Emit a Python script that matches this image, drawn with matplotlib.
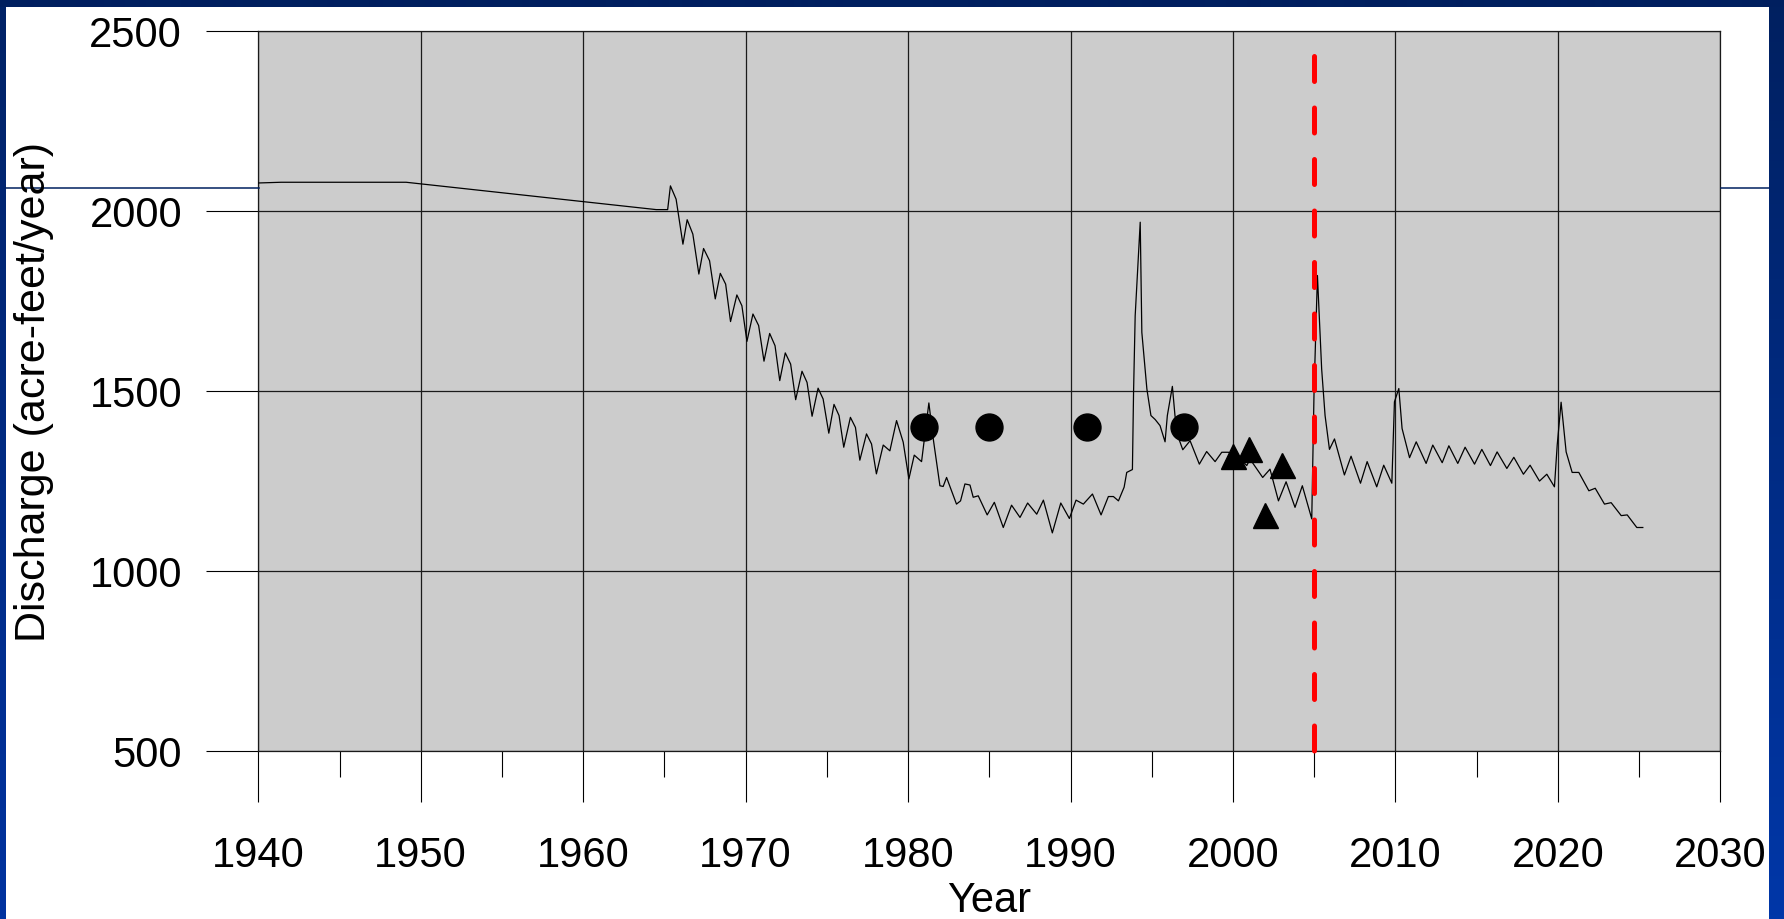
import numpy as np
from matplotlib import pyplot as plt
from matplotlib.colors import LinearSegmentedColormap
from matplotlib.lines import Line2D

# simulated discharge (year, acre-feet/year)
years = [1940.0, 1941.4, 1949.1, 1964.5, 1965.2,
         1965.37, 1965.72, 1966.14, 1966.40, 1966.75, 1967.12,
         1967.41, 1967.78, 1968.13, 1968.44, 1968.77, 1969.07,
         1969.46, 1969.77, 1970.08, 1970.45, 1970.80, 1971.13,
         1971.48, 1971.81, 1972.10, 1972.44, 1972.77, 1973.08,
         1973.47, 1973.78, 1974.09, 1974.46, 1974.77, 1975.12,
         1975.44, 1975.75, 1976.04, 1976.45, 1976.76, 1977.03,
         1977.44, 1977.75, 1978.05, 1978.47, 1978.88, 1979.29,
         1979.70, 1980.05, 1980.38, 1980.83, 1981.28, 1981.55,
         1981.96, 1982.16, 1982.37, 1982.98, 1983.23, 1983.50,
         1983.81, 1984.01, 1984.32, 1984.87, 1985.31, 1985.86,
         1986.37, 1986.89, 1987.36, 1987.92, 1988.33, 1988.88,
         1989.40, 1989.93, 1990.34, 1990.79, 1991.35, 1991.88,
         1992.33, 1992.64, 1992.95, 1993.30, 1993.46, 1993.81,
         1993.88, 1993.98, 1994.29, 1994.39, 1994.70, 1994.95,
         1995.21, 1995.51, 1995.82, 1995.96, 1996.27, 1996.43,
         1996.64, 1996.91, 1997.36, 1997.93, 1998.38, 1998.90,
         1999.31, 1999.72, 2000.30, 2000.85, 2001.05, 2001.83,
         2002.28, 2002.80, 2003.27, 2003.82, 2004.27, 2004.85,
         2004.99, 2005.20, 2005.46, 2005.67, 2005.94, 2006.25,
         2006.86, 2007.27, 2007.85, 2008.26, 2008.85, 2009.28,
         2009.78, 2009.94, 2010.21, 2010.41, 2010.87, 2011.28,
         2011.89, 2012.30, 2012.88, 2013.29, 2013.84, 2014.29,
         2014.87, 2015.32, 2015.85, 2016.26, 2016.86, 2017.29,
         2017.88, 2018.29, 2018.87, 2019.32, 2019.79, 2019.96,
         2020.20, 2020.51, 2020.88, 2021.29, 2021.91, 2022.30,
         2022.87, 2023.28, 2023.90, 2024.27, 2024.86, 2025.23]
discharge = [2077, 2079, 2079, 2003, 2003,
             2069, 2032, 1907, 1975, 1935, 1824,
             1895, 1861, 1755, 1826, 1796, 1692,
             1766, 1736, 1637, 1713, 1681, 1582,
             1659, 1625, 1528, 1605, 1574, 1475,
             1554, 1523, 1429, 1507, 1477, 1382,
             1462, 1431, 1343, 1426, 1398, 1307,
             1380, 1352, 1269, 1349, 1333, 1417,
             1357, 1255, 1321, 1303, 1466, 1366,
             1236, 1234, 1259, 1185, 1194, 1241,
             1238, 1204, 1208, 1155, 1190, 1120,
             1182, 1148, 1188, 1157, 1196, 1105,
             1188, 1145, 1196, 1185, 1213, 1155,
             1206, 1206, 1194, 1232, 1273, 1281,
             1495, 1708, 1968, 1662, 1505, 1431,
             1420, 1403, 1358, 1431, 1512, 1431,
             1370, 1336, 1361, 1296, 1331, 1303,
             1329, 1329, 1318, 1292, 1310, 1259,
             1282, 1194, 1247, 1176, 1236, 1144,
             1495, 1820, 1560, 1431, 1337, 1366,
             1266, 1318, 1243, 1303, 1233, 1293,
             1243, 1469, 1506, 1395, 1314, 1358,
             1298, 1349, 1300, 1347, 1298, 1343,
             1296, 1337, 1292, 1330, 1284, 1315,
             1268, 1293, 1249, 1268, 1233, 1349,
             1468, 1330, 1273, 1273, 1222, 1229,
             1185, 1189, 1153, 1155, 1120, 1120]

# measured values
circ_years = [1981, 1985, 1991, 1997]
circ_vals = [1400, 1400, 1400, 1400]
tri_years = [2000, 2001, 2002, 2003]
tri_vals = [1320, 1337, 1154, 1295]

cut_year = 2005
cut_top = 2430

plt.rcParams['font.family'] = ['Liberation Sans', 'DejaVu Sans']

fig = plt.figure(figsize=(17.84, 9.2), dpi=100)
fig.patch.set_facecolor('white')


def band(rect, c_top, c_bot):
    b = fig.add_axes(rect)
    cmap = LinearSegmentedColormap.from_list('b', [c_top, c_bot])
    b.imshow(np.linspace(0, 1, 256)[:, None], aspect='auto', cmap=cmap)
    b.axis('off')


W, H = 1784, 920
band([0, 0, 6 / W, 1], '#002266', '#0033a0')
band([1769 / W, 0, 15 / W, 1], '#002060', '#0037a8')
band([0, 1 - 8 / H, 1, 8 / H], '#001f5f', '#001f5f')

yl = 1 - 189 / H
fig.add_artist(Line2D([6 / W, 259 / W], [yl, yl], color='#00205f', lw=1.1))
fig.add_artist(Line2D([1721 / W, 1769 / W], [yl, yl], color='#00205f', lw=1.1))

ax = fig.add_axes([258.3 / W, 1 - 751.7 / H, 1462 / W, 720 / H])
ax.set_facecolor('#cccccc')
ax.set_xlim(1940, 2030)
ax.set_ylim(500, 2500)
ax.set_xticks(range(1940, 2031, 10))
ax.set_xticks(range(1945, 2030, 10), minor=True)
ax.set_yticks(range(500, 2501, 500))
ax.grid(True, which='major', color='#1a1a1a', lw=0.9)
ax.set_axisbelow(True)
for s in ax.spines.values():
    s.set_color('#1a1a1a')
    s.set_linewidth(0.9)

ax.tick_params(axis='x', which='major', direction='out', length=36.7,
               width=0.8, pad=24, labelsize=30)
ax.tick_params(axis='x', which='minor', direction='out', length=18.7, width=0.8)
ax.tick_params(axis='y', which='major', direction='out', length=37.4,
               width=0.8, pad=17.5, labelsize=30)

ax.plot(years, discharge, color='black', lw=0.9, zorder=3)
ax.plot(circ_years, circ_vals, 'o', color='black', ms=19.4, zorder=4)
ax.plot(tri_years, tri_vals, '^', color='black', ms=18, zorder=4)
ax.plot([cut_year, cut_year], [cut_top, 500], color='red', lw=3.6,
        dashes=(5.0, 5.3), dash_capstyle='round', zorder=5, clip_on=False)

fig.text(989.3 / W, 1 - 912 / H, 'Year', ha='center', va='baseline', fontsize=30)
fig.text(34 / W, 1 - 391.7 / H, 'Discharge (acre-feet/year)', rotation=90,
         ha='center', va='center', fontsize=31)

fig.savefig('out.png', dpi=100)
